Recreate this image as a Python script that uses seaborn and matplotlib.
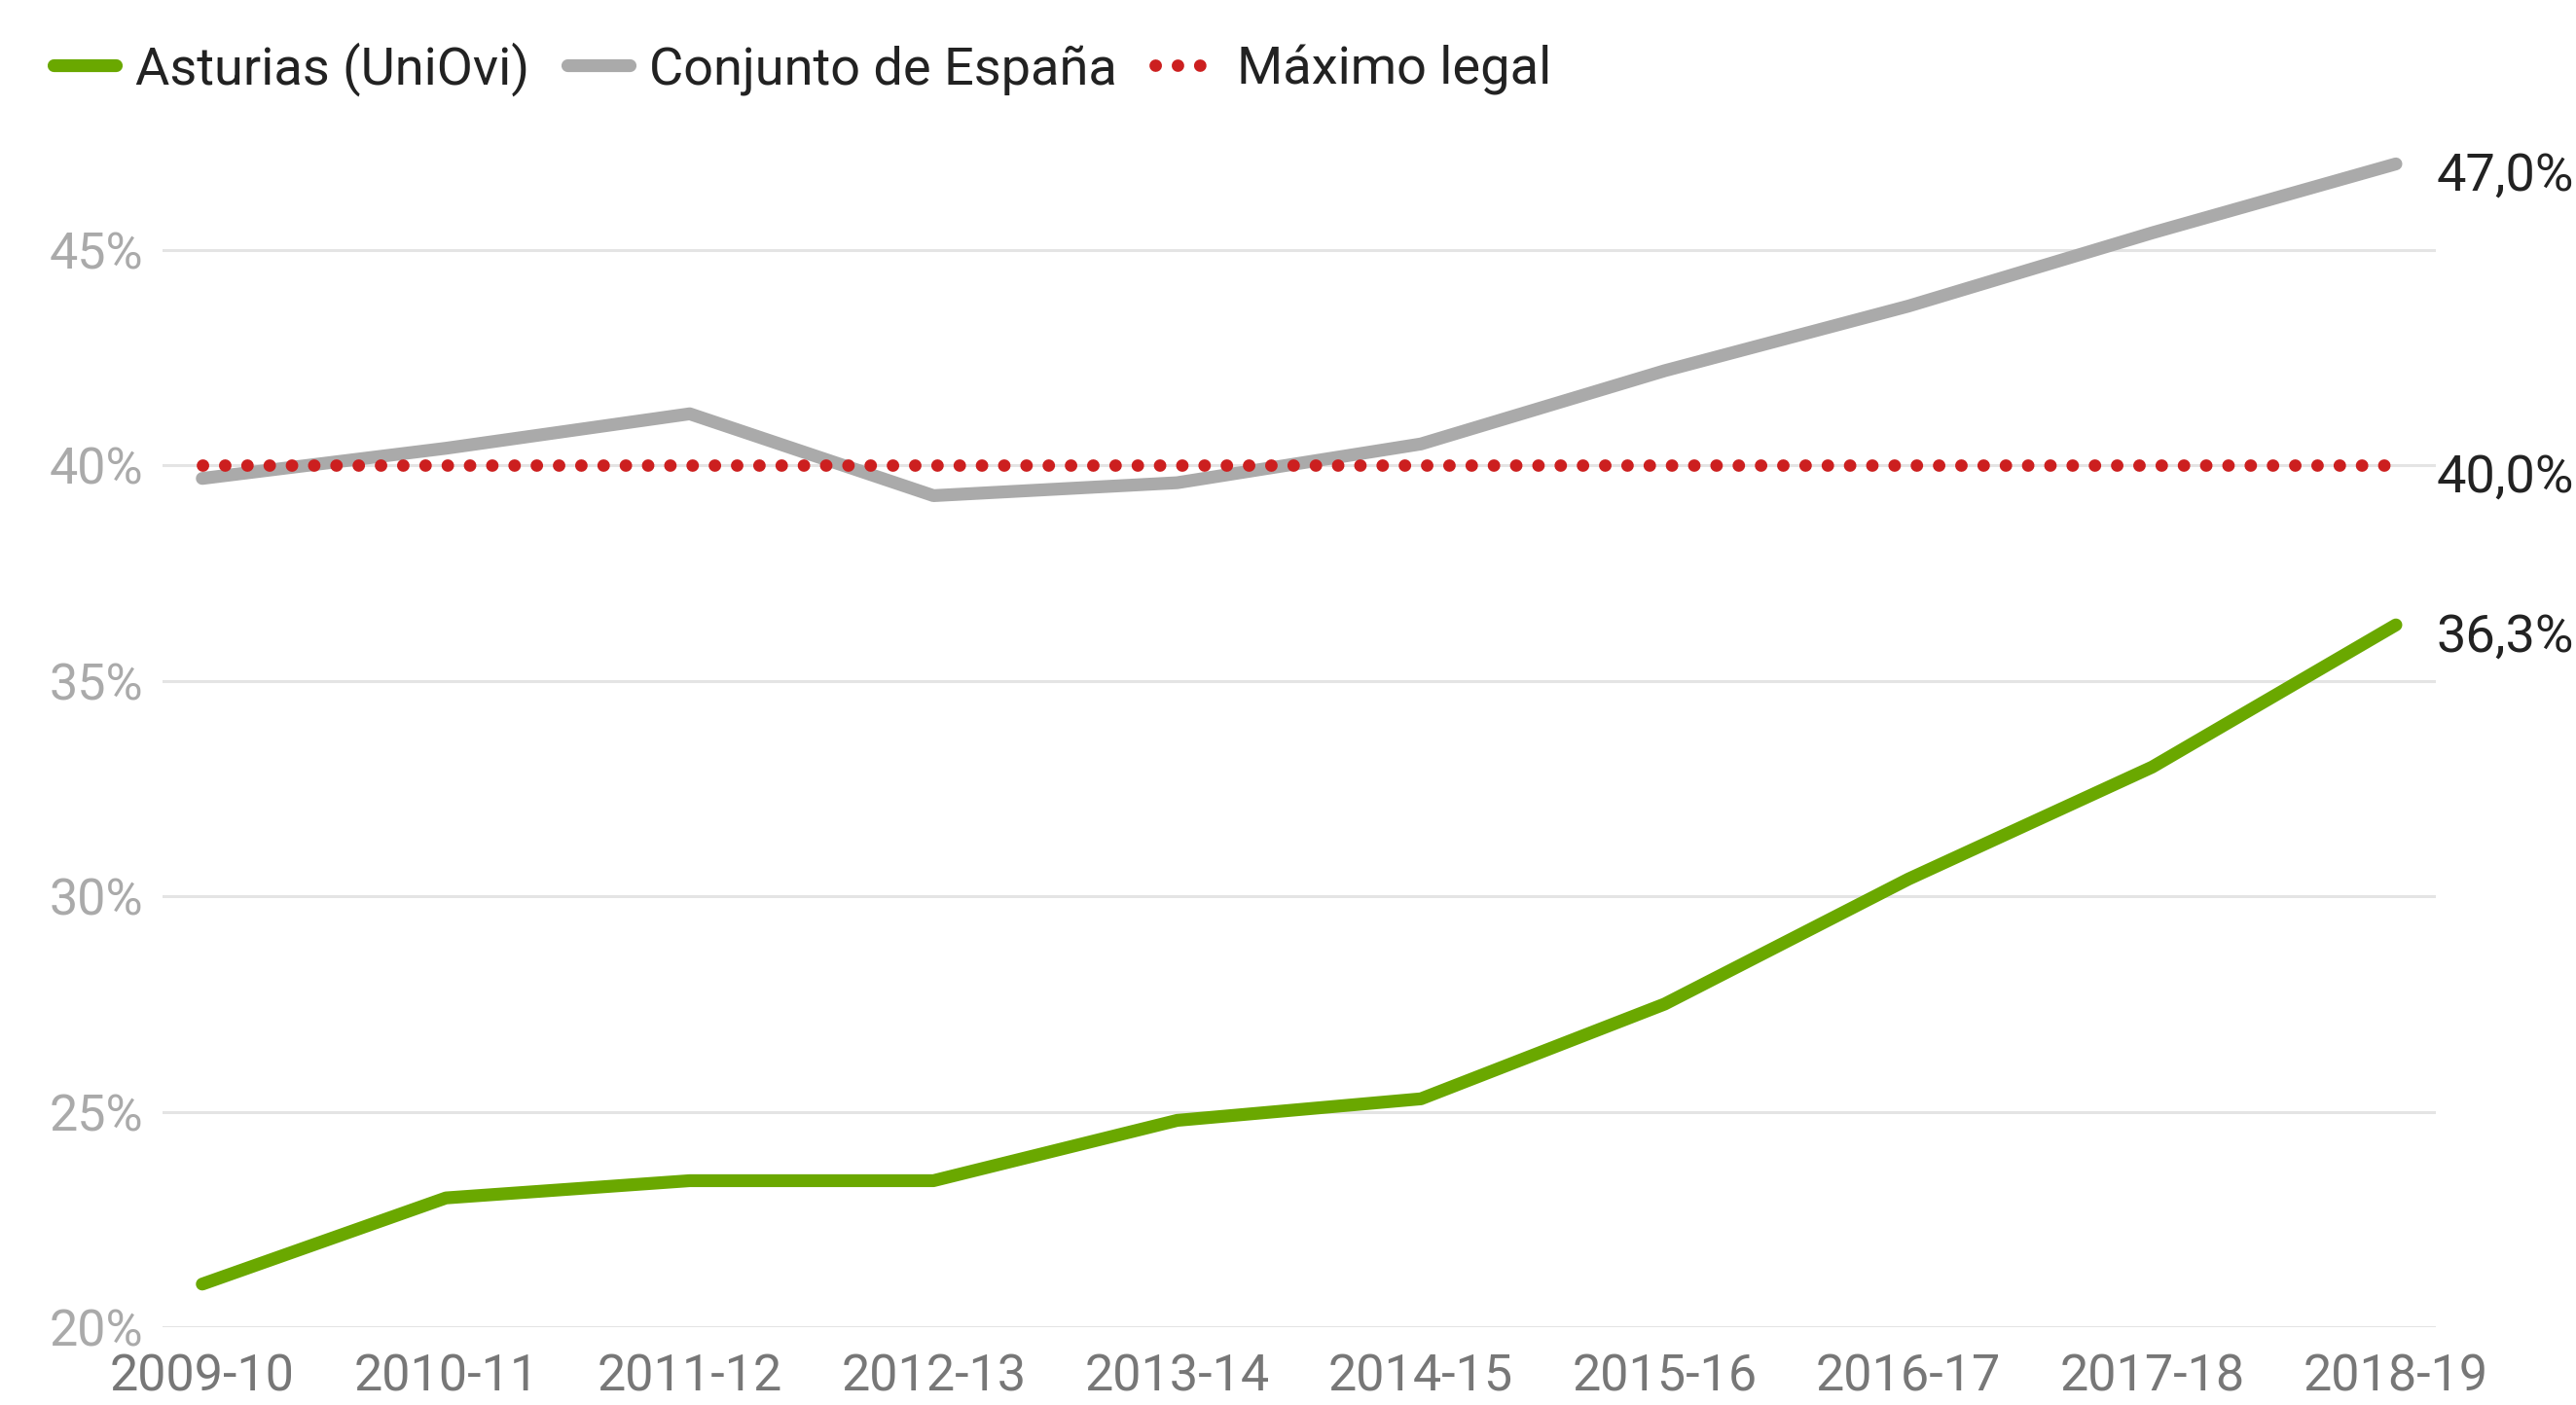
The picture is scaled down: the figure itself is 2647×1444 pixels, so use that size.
import matplotlib as mlp
mlp.use('Agg')
import matplotlib.pyplot as plt
import pandas as pd
import seaborn as sns

cursos = ['2009-10', '2010-11', '2011-12', '2012-13', '2013-14',
          '2014-15', '2015-16', '2016-17', '2017-18', '2018-19']
asturias = [21.0, 23.0, 23.4, 23.4, 24.8, 25.3, 27.5, 30.4, 33.0, 36.3]
espana = [39.7, 40.4, 41.2, 39.3, 39.6, 40.5, 42.2, 43.7, 45.4, 47.0]
maximo = [40.0] * len(cursos)
y_ticks = [20, 25, 30, 35, 40, 45]

sns.set_theme(style='white')
plt.rcParams['font.family'] = ['Roboto', 'DejaVu Sans']

df = pd.DataFrame({'pos': range(len(cursos)), 'curso': cursos,
                   'Asturias (UniOvi)': asturias,
                   'Conjunto de España': espana,
                   'Máximo legal': maximo})

fig = plt.figure(figsize=(26.47, 14.44), dpi=100)
ax = fig.add_axes([0.063, 0.0554, 0.8826, 0.8586])

# lineas
sns.lineplot(data=df, x='pos', y='Asturias (UniOvi)', ax=ax, color='#6aa800',
             linewidth=9.5, solid_capstyle='round', label='Asturias (UniOvi)')
sns.lineplot(data=df, x='pos', y='Conjunto de España', ax=ax, color='#aaaaaa',
             linewidth=9.5, solid_capstyle='round', label='Conjunto de España')
sns.lineplot(data=df, x='pos', y='Máximo legal', ax=ax, color='#cc1f1f',
             linewidth=9.2, dash_capstyle='round', linestyle=(0, (0.01, 1.78)),
             label='Máximo legal')

ax.set_xlim(-0.164, len(cursos) - 1 + 0.164)
ax.set_ylim(20, 48)
ax.set_yticks(y_ticks)
ax.set_yticklabels([f'{t}%' for t in y_ticks])
ax.set_xticks(range(len(cursos)))
ax.set_xticklabels(cursos)
ax.set_xlabel('')
ax.set_ylabel('')
ax.grid(axis='y', color='#e4e4e4', linewidth=2.2)
ax.set_axisbelow(True)
sns.despine(ax=ax, left=True, bottom=True, top=True, right=True)
ax.tick_params(axis='y', length=0, pad=14, labelsize=37.5, labelcolor='#aaaaaa')
ax.tick_params(axis='x', length=0, pad=19, labelsize=37.5, labelcolor='#777777')

# etiquetas finales
for serie in [espana, maximo, asturias]:
    v = serie[-1]
    ax.annotate(f'{v:.1f}%'.replace('.', ','), xy=(len(cursos) - 1, v),
                xytext=(30, -9), textcoords='offset points', fontsize=39,
                color='#222222', va='center', ha='left', annotation_clip=False)

leg = ax.legend(loc='upper left', bbox_to_anchor=(-0.057, 1.083), ncol=3,
                frameon=False, fontsize=39, handlelength=1.18,
                handletextpad=0.37, columnspacing=0.72, borderaxespad=0)
for t in leg.get_texts():
    t.set_color('#222222')

fig.savefig('out.png', dpi=100)
